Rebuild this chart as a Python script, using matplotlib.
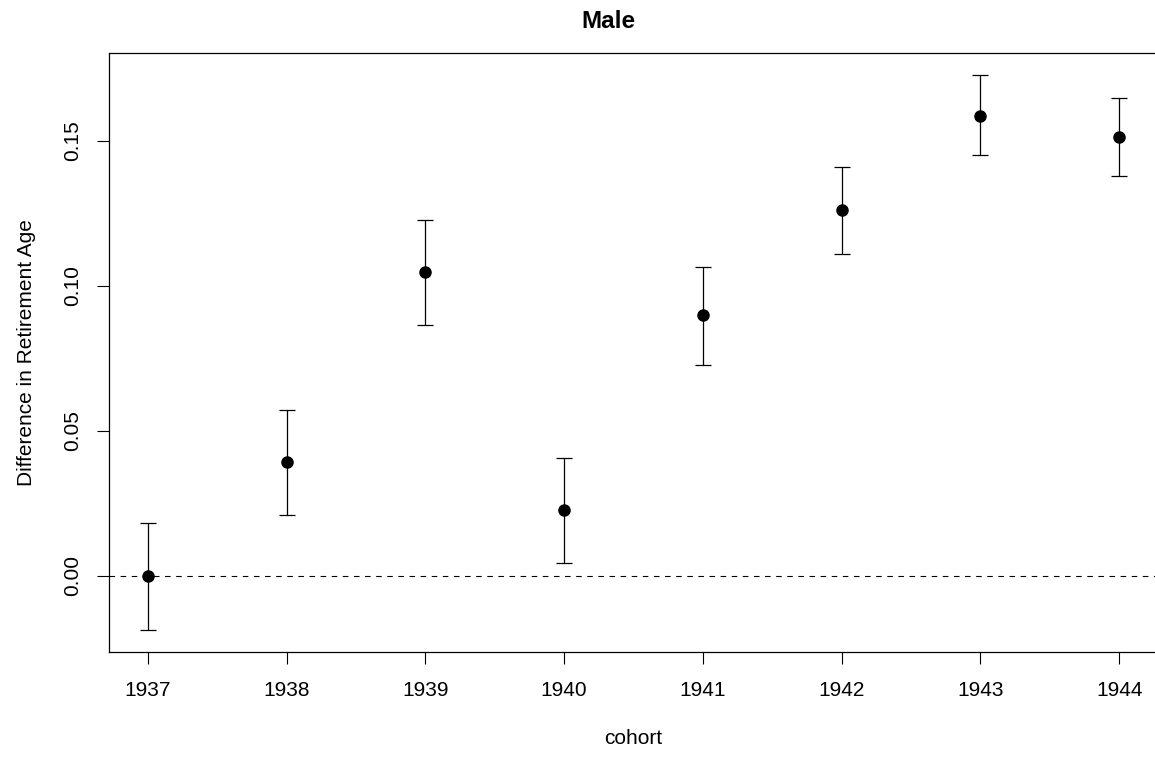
import matplotlib
matplotlib.use('Agg')
from matplotlib import pyplot as plt

cohort = [1937, 1938, 1939, 1940, 1941, 1942, 1943, 1944]
estimate = [0.000, 0.0392, 0.1048, 0.0226, 0.0900, 0.1261, 0.1587, 0.1515]
ci_lower = [-0.0186, 0.0210, 0.0867, 0.0046, 0.0728, 0.1111, 0.1452, 0.1380]
ci_upper = [0.0184, 0.0571, 0.1228, 0.0408, 0.1066, 0.1411, 0.1727, 0.1648]
y_ticks = [0.00, 0.05, 0.10, 0.15]
y_tick_labels = ['0.00', '0.05', '0.10', '0.15']

plt.rcParams['font.family'] = ['Liberation Sans', 'DejaVu Sans']

fig = plt.figure(figsize=(11.55, 7.57), dpi=100)
ax = fig.add_axes([109 / 1155, 105 / 757, 1049 / 1155, 599 / 757])

err_low = [e - l for e, l in zip(estimate, ci_lower)]
err_high = [u - e for e, u in zip(estimate, ci_upper)]
ax.errorbar(cohort, estimate, yerr=[err_low, err_high], fmt='o', color='black',
            markersize=8, elinewidth=0.9, capsize=5.5, capthick=0.9)
ax.axhline(0, color='black', linewidth=0.8, linestyle=(0, (5, 5)))

# R style 4% padding
x_pad = (max(cohort) - min(cohort)) * 0.04
y_pad = (max(ci_upper) - min(ci_lower)) * 0.04
ax.set_xlim(min(cohort) - x_pad, max(cohort) + x_pad)
ax.set_ylim(min(ci_lower) - y_pad, max(ci_upper) + y_pad)

ax.set_xticks(cohort)
ax.set_xticklabels([str(c) for c in cohort])
ax.set_yticks(y_ticks)
ax.set_yticklabels(y_tick_labels, rotation=90, va='center')
ax.tick_params(direction='out', length=8.6, width=0.8, labelsize=15)
ax.tick_params(axis='x', pad=12.5)
ax.tick_params(axis='y', pad=11)
for spine in ax.spines.values():
    spine.set_linewidth(0.9)

ax.set_xlabel('cohort', fontsize=15, labelpad=21)
ax.set_ylabel('Difference in Retirement Age', fontsize=15, labelpad=19)
ax.set_title('Male', fontsize=17.5, fontweight='bold', pad=18, x=(608 - 109) / 1049)

fig.savefig('out.png', dpi=100)
